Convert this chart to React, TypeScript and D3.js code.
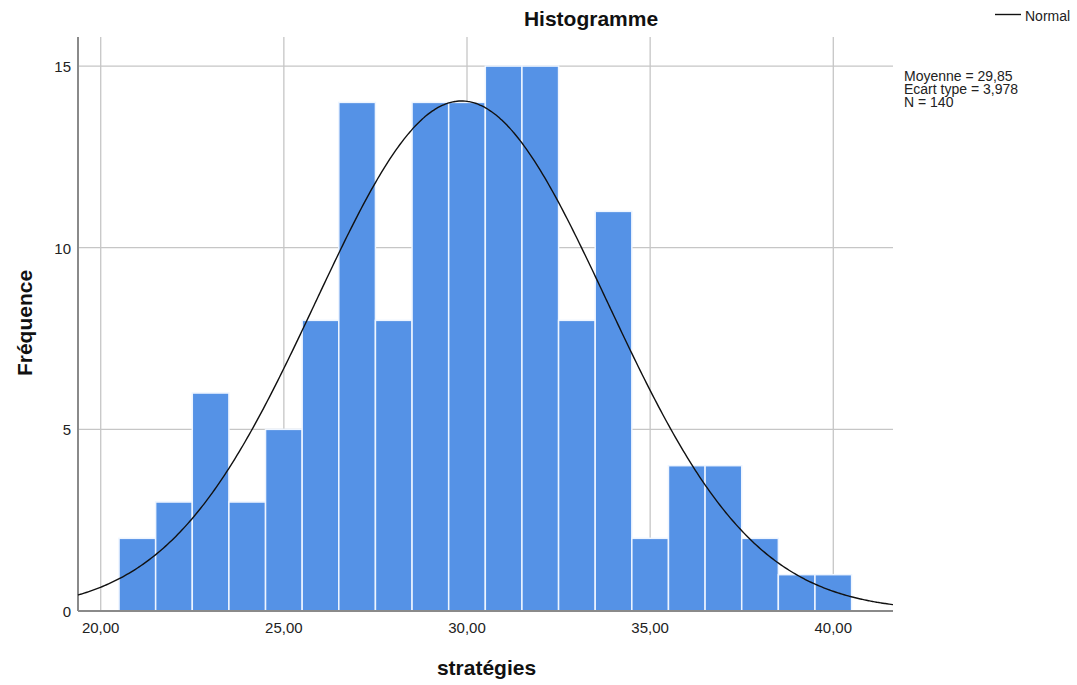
import React from "react";
import * as d3 from "d3";

const binStarts = [20.5, 21.5, 22.5, 23.5, 24.5, 25.5, 26.5, 27.5, 28.5, 29.5, 30.5, 31.5, 32.5, 33.5, 34.5, 35.5, 36.5, 37.5, 38.5, 39.5];
const counts = [2, 3, 6, 3, 5, 8, 14, 8, 14, 14, 15, 15, 8, 11, 2, 4, 4, 2, 1, 1];
const binWidth = 1;
const xTicks = [20, 25, 30, 35, 40];
const yTicks = [0, 5, 10, 15];
const mean = 29.85;
const sd = 3.978;
const n = 140;
const statLines = ["Moyenne = 29,85", "Ecart type = 3,978", "N = 140"];

const W = 1077;
const H = 685;
const left = 78;
const right = 893;
const top = 37;
const bottom = 611;

export default function App() {
  const x = d3.scaleLinear().domain([19.38, 41.63]).range([left, right]);
  const y = d3.scaleLinear().domain([0, 15.8]).range([bottom, top]);
  const fmt = (v: number) => v.toFixed(2).replace(".", ",");
  const pdf = (v: number) =>
    (n * binWidth) / (sd * Math.sqrt(2 * Math.PI)) * Math.exp(-0.5 * ((v - mean) / sd) ** 2);
  const pts = d3.range(0, 401).map((i) => {
    const v = 19.38 + (i / 400) * (41.63 - 19.38);
    return [x(v), y(pdf(v))] as [number, number];
  });
  const line = d3.line().curve(d3.curveBasis)(pts) || "";
  const font = "'Liberation Sans', Arial, sans-serif";
  return (
    <svg width={W} height={H} style={{ position: "absolute", left: 0, top: 0, background: "#fff" }} fontFamily={font}>
      {xTicks.map((t) => (
        <line key={"gx" + t} x1={x(t)} x2={x(t)} y1={top} y2={bottom} stroke="#c6c6c6" strokeWidth={1.3} />
      ))}
      {yTicks.filter((t) => t > 0).map((t) => (
        <line key={"gy" + t} x1={left} x2={right} y1={y(t)} y2={y(t)} stroke="#c6c6c6" strokeWidth={1.3} />
      ))}
      {binStarts.map((b, i) => (
        <rect
          key={"b" + i}
          x={x(b)}
          y={y(counts[i])}
          width={x(b + binWidth) - x(b)}
          height={y(0) - y(counts[i])}
          fill="#5592e6"
          stroke="#eef5ff"
          strokeWidth={1.5}
        />
      ))}
      <line x1={left} x2={left} y1={top} y2={bottom} stroke="#8a8a8a" strokeWidth={2} />
      <line x1={left} x2={right} y1={bottom} y2={bottom} stroke="#8a8a8a" strokeWidth={2} />
      <path d={line} fill="none" stroke="#111" strokeWidth={1.4} />
      {xTicks.map((t) => (
        <text key={"tx" + t} x={x(t)} y={633} textAnchor="middle" fontSize={15} fill="#222">
          {fmt(t)}
        </text>
      ))}
      {yTicks.map((t) => (
        <text key={"ty" + t} x={71} y={y(t) + 6} textAnchor="end" fontSize={15} fill="#222">
          {t}
        </text>
      ))}
      <text x={591} y={26} textAnchor="middle" fontSize={21} fontWeight="bold" fill="#111">
        Histogramme
      </text>
      <text x={486.5} y={675} textAnchor="middle" fontSize={21} fontWeight="bold" fill="#111">
        stratégies
      </text>
      <text transform="translate(32,323) rotate(-90)" textAnchor="middle" fontSize={21} fontWeight="bold" fill="#111">
        Fréquence
      </text>
      <line x1={995} x2={1021} y1={14.5} y2={14.5} stroke="#111" strokeWidth={1.4} />
      <text x={1025} y={20.5} fontSize={14} fill="#222">Normal</text>
      {statLines.map((s, i) => (
        <text key={"s" + i} x={904} y={81 + i * 13} fontSize={14} fill="#222">
          {s}
        </text>
      ))}
    </svg>
  );
}
